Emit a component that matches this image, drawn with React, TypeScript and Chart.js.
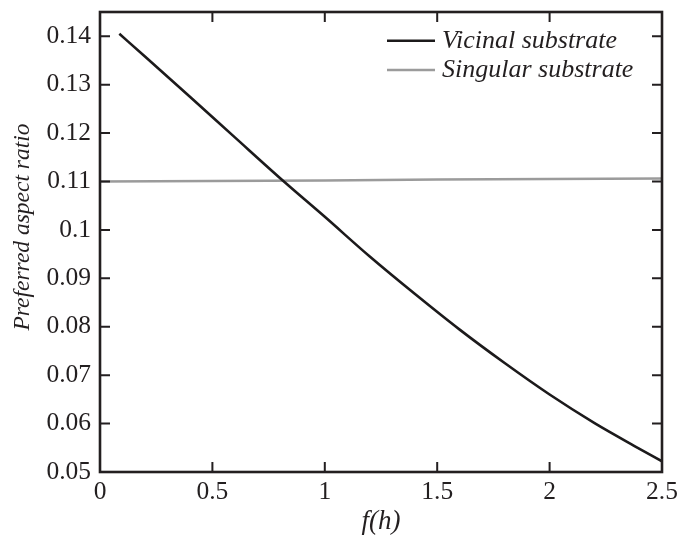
import React, { useEffect, useRef } from "react";
import { Chart, registerables } from "chart.js";

Chart.register(...registerables);

// Vicinal substrate curve
const vicinalX = [0.086, 0.2, 0.4, 0.6, 0.813, 1.0, 1.2, 1.4, 1.6, 1.8, 2.0, 2.2, 2.4, 2.5];
const vicinalY = [0.1405, 0.1358, 0.1275, 0.1191, 0.1102, 0.1027, 0.0945, 0.0868, 0.0794, 0.0725, 0.066, 0.0601, 0.0548, 0.0522];

// Singular substrate (nearly flat)
const singularX = [0, 0.5, 1, 1.5, 2, 2.5];
const singularY = [0.11, 0.1101, 0.1102, 0.1104, 0.1105, 0.1106];

const xTicks = [0, 0.5, 1, 1.5, 2, 2.5];
const xTickLabels = ["0", "0.5", "1", "1.5", "2", "2.5"];
const yTicks = [0.05, 0.06, 0.07, 0.08, 0.09, 0.1, 0.11, 0.12, 0.13, 0.14];
const yTickLabels = ["0.05", "0.06", "0.07", "0.08", "0.09", "0.1", "0.11", "0.12", "0.13", "0.14"];

const seriesNames = ["Vicinal substrate", "Singular substrate"];
const seriesColors = ["#1c1a1b", "#9b9b9b"];
const yTitle = "Preferred aspect ratio";
const xTitle = "f(h)";

const SERIF = "'Liberation Serif', 'Times New Roman', Times, serif";
const FRAME = "#231f20";

const framePlugin = {
  id: "frameTicksLegend",
  afterDatasetsDraw(chart: any) {
    const { ctx, chartArea } = chart;
    const xs = chart.scales.x;
    const ys = chart.scales.y;
    const { left, right, top, bottom } = chartArea;
    ctx.save();
    ctx.strokeStyle = FRAME;
    ctx.lineWidth = 2;
    const tl = 10;
    xTicks.forEach((v) => {
      const px = xs.getPixelForValue(v);
      if (Math.abs(px - left) < 2 || Math.abs(px - right) < 2) return;
      ctx.beginPath();
      ctx.moveTo(px, bottom);
      ctx.lineTo(px, bottom - tl);
      ctx.moveTo(px, top);
      ctx.lineTo(px, top + tl);
      ctx.stroke();
    });
    yTicks.forEach((v) => {
      const py = ys.getPixelForValue(v);
      if (Math.abs(py - bottom) < 2 || Math.abs(py - top) < 2) return;
      ctx.beginPath();
      ctx.moveTo(left, py);
      ctx.lineTo(left + tl, py);
      ctx.moveTo(right, py);
      ctx.lineTo(right - tl, py);
      ctx.stroke();
    });
    ctx.lineWidth = 2.6;
    ctx.strokeRect(left, top, right - left, bottom - top);

    // legend
    const lx0 = 387;
    const lx1 = 435;
    const ly = [40.7, 70];
    ctx.font = "italic 26px " + SERIF;
    ctx.textBaseline = "middle";
    ctx.textAlign = "left";
    seriesNames.forEach((name, i) => {
      ctx.strokeStyle = seriesColors[i];
      ctx.lineWidth = 2.5;
      ctx.beginPath();
      ctx.moveTo(lx0, ly[i]);
      ctx.lineTo(lx1, ly[i]);
      ctx.stroke();
      ctx.fillStyle = FRAME;
      ctx.fillText(name, 442, ly[i]);
    });

    // y axis title
    ctx.save();
    ctx.translate(23, 227);
    ctx.rotate(-Math.PI / 2);
    ctx.font = "italic 23.5px " + SERIF;
    ctx.textAlign = "center";
    ctx.textBaseline = "middle";
    ctx.fillStyle = FRAME;
    ctx.fillText(yTitle, 0, 0);
    ctx.restore();

    ctx.restore();
  },
};

export default function App() {
  const ref = useRef<HTMLCanvasElement | null>(null);

  useEffect(() => {
    if (!ref.current) return;
    const chart = new Chart(ref.current, {
      type: "line",
      data: {
        datasets: [
          {
            label: seriesNames[0],
            data: vicinalX.map((x, i) => ({ x, y: vicinalY[i] })),
            borderColor: seriesColors[0],
            borderWidth: 2.6,
            pointRadius: 0,
            cubicInterpolationMode: "monotone",
            fill: false,
          },
          {
            label: seriesNames[1],
            data: singularX.map((x, i) => ({ x, y: singularY[i] })),
            borderColor: seriesColors[1],
            borderWidth: 2.5,
            pointRadius: 0,
            tension: 0,
            fill: false,
          },
        ],
      },
      options: {
        animation: false,
        responsive: true,
        maintainAspectRatio: false,
        layout: { padding: { left: 0, top: 12, right: 20, bottom: 0 } },
        plugins: {
          legend: { display: false },
          tooltip: { enabled: false },
        },
        scales: {
          x: {
            type: "linear",
            min: 0,
            max: 2.5,
            grid: { display: false, drawTicks: false },
            border: { display: false },
            afterBuildTicks: (s: any) => {
              s.ticks = xTicks.map((v) => ({ value: v }));
            },
            afterFit: (s: any) => {
              s.height = 63;
              s.paddingLeft = 0;
              s.paddingRight = 0;
            },
            ticks: {
              padding: 5,
              color: FRAME,
              maxRotation: 0,
              autoSkip: false,
              font: { family: SERIF, size: 25.5 },
              callback: (_v: any, i: number) => xTickLabels[i],
            },
            title: {
              display: true,
              text: xTitle,
              color: FRAME,
              font: { family: SERIF, size: 27, style: "italic", lineHeight: 1 },
              padding: { top: 0, bottom: 0 },
            },
          },
          y: {
            type: "linear",
            min: 0.05,
            max: 0.145,
            grid: { display: false, drawTicks: false },
            border: { display: false },
            afterBuildTicks: (s: any) => {
              s.ticks = yTicks.map((v) => ({ value: v }));
            },
            afterFit: (s: any) => {
              s.width = 100;
              s.paddingTop = 0;
              s.paddingBottom = 0;
            },
            ticks: {
              padding: 9,
              color: FRAME,
              autoSkip: false,
              font: { family: SERIF, size: 25.5 },
              callback: (_v: any, i: number) => yTickLabels[i],
            },
            title: { display: false },
          },
        },
      },
      plugins: [framePlugin],
    } as any);
    return () => chart.destroy();
  }, []);

  return (
    <div style={{ position: "fixed", left: 0, top: 0, width: 682, height: 535, background: "#fff" }}>
      <canvas ref={ref} width={682} height={535} />
    </div>
  );
}
